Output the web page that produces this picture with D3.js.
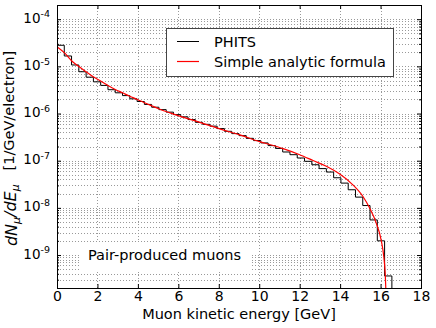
<!DOCTYPE html>
<html>
<head>
<meta charset="utf-8">
<script src="https://cdn.jsdelivr.net/npm/d3@7"></script>
<style>
  html, body { margin: 0; padding: 0; background: #fff; }
  svg { display: block; font-family: "DejaVu Sans", sans-serif; }
</style>
</head>
<body>
<svg id="chart"></svg>
<script>
// PHITS histogram: 0.36 GeV bins starting at 0
const BIN_WIDTH = 0.36;
const phitsValues = [
  2.8e-5, 1.66e-5, 1.07e-5, 7.7e-6, 5.9e-6, 4.7e-6, 3.95e-6, 3.2e-6, 2.75e-6, 2.4e-6,
  2.05e-6, 1.8e-6, 1.56e-6, 1.36e-6, 1.21e-6, 1.07e-6, 9.5e-7, 8.5e-7, 7.45e-7, 6.5e-7,
  5.9e-7, 5.4e-7, 4.8e-7, 4.2e-7, 3.75e-7, 3.4e-7, 2.98e-7, 2.67e-7, 2.38e-7, 2.09e-7,
  1.82e-7, 1.53e-7, 1.34e-7, 1.14e-7, 9.7e-8, 8.2e-8, 6.8e-8, 5.75e-8, 4.35e-8, 3.35e-8,
  2.42e-8, 1.69e-8, 1.12e-8, 5.55e-9, 2.0e-9, 3.6e-10
];

// analytic formula curve
const formulaE = [
  0, 0.36, 0.73, 1.09, 1.43, 1.79, 2.16, 2.52, 2.88, 3.24, 3.6, 3.97, 4.33, 4.68, 5.06,
  6.07, 7.06, 8.05, 9.04, 10.02, 10.52, 11.18, 12.0, 12.66, 13.32, 13.98, 14.63, 15.13,
  15.46, 15.79, 16.03, 16.16, 16.23, 16.27
];
const formulaValues = [
  2.62e-5, 1.95e-5, 1.3e-5, 9.9e-6, 7.7e-6, 6.0e-6, 4.9e-6, 3.94e-6, 3.24e-6, 2.75e-6,
  2.33e-6, 1.99e-6, 1.69e-6, 1.46e-6, 1.25e-6, 8.8e-7, 6.5e-7, 4.72e-7, 3.52e-7, 2.54e-7,
  2.2e-7, 1.8e-7, 1.34e-7, 1.01e-7, 7.6e-8, 5.2e-8, 3.08e-8, 1.74e-8, 9.9e-9, 4.7e-9,
  2.08e-9, 9.2e-10, 4.1e-10, 1.5e-10
];

const xTicks = [0, 2, 4, 6, 8, 10, 12, 14, 16, 18];
const yExponents = [-9, -8, -7, -6, -5, -4];
const legendLabels = ["PHITS", "Simple analytic formula"];

const width = 436, height = 328;
const margin = { top: 5, right: 15, bottom: 40, left: 57 };
const plotRight = width - margin.right;
const plotBottom = height - margin.bottom;

const svg = d3.select("#chart")
  .attr("width", width)
  .attr("height", height)
  .attr("viewBox", [0, 0, width, height]);

const x = d3.scaleLinear().domain([0, 18]).range([margin.left, plotRight]);
const y = d3.scaleLog().domain([2e-10, 2e-4]).range([plotBottom, margin.top]);

// minor log positions
const minorY = [];
for (let e = -10; e <= -4; e++) {
  for (let k = 2; k <= 9; k++) {
    const v = k * Math.pow(10, e);
    if (v > y.domain()[0] && v < y.domain()[1]) minorY.push(v);
  }
}
const majorY = yExponents.map(e => Math.pow(10, e));

svg.append("defs").append("clipPath").attr("id", "clip")
  .append("rect")
  .attr("x", margin.left).attr("y", margin.top)
  .attr("width", plotRight - margin.left).attr("height", plotBottom - margin.top);

// grid
const grid = svg.append("g")
  .attr("stroke", "#999")
  .attr("stroke-width", 1)
  .attr("stroke-dasharray", "1,2");

grid.selectAll("line.ym")
  .data(minorY.concat(majorY))
  .join("line")
  .attr("x1", margin.left).attr("x2", plotRight)
  .attr("y1", d => Math.round(y(d)) + 0.5).attr("y2", d => Math.round(y(d)) + 0.5);

grid.selectAll("line.xm")
  .data(xTicks.slice(1, -1))
  .join("line")
  .attr("y1", margin.top).attr("y2", plotBottom)
  .attr("x1", d => Math.round(x(d)) + 0.5).attr("x2", d => Math.round(x(d)) + 0.5);

// white box behind annotation
svg.append("rect")
  .attr("x", 81).attr("y", 242).attr("width", 169).attr("height", 30)
  .attr("fill", "#fff");

// histogram
const edges = d3.range(phitsValues.length + 1).map(i => i * BIN_WIDTH);
const steps = [[edges[0], y.domain()[0] / 10]];
phitsValues.forEach((v, i) => {
  steps.push([edges[i], v]);
  steps.push([edges[i + 1], v]);
});
steps.push([edges[edges.length - 1], y.domain()[0] / 10]);

const line = d3.line()
  .x(d => x(d[0]))
  .y(d => y(d[1]));

const plot = svg.append("g").attr("clip-path", "url(#clip)");

plot.append("path")
  .datum(steps)
  .attr("fill", "none")
  .attr("stroke", "#000")
  .attr("stroke-width", 1)
  .attr("d", line);

plot.append("path")
  .datum(formulaE.map((e, i) => [e, formulaValues[i]]))
  .attr("fill", "none")
  .attr("stroke", "#ff0000")
  .attr("stroke-width", 1.2)
  .attr("d", line.curve(d3.curveMonotoneX));

// axes (ticks inward on all four sides)
svg.append("g")
  .attr("transform", `translate(0,${plotBottom})`)
  .call(d3.axisBottom(x).tickValues(xTicks).tickSize(-4).tickPadding(3).tickFormat(d3.format("d")))
  .call(g => g.select(".domain").remove())
  .call(g => g.selectAll("text").attr("font-size", 14).attr("fill", "#000")
    .attr("font-family", "DejaVu Sans"));

svg.append("g")
  .attr("transform", `translate(0,${margin.top})`)
  .call(d3.axisTop(x).tickValues(xTicks).tickSize(-4).tickFormat(""))
  .call(g => g.select(".domain").remove());

const yLeft = svg.append("g")
  .attr("transform", `translate(${margin.left},0)`)
  .call(d3.axisLeft(y).tickValues(majorY).tickSize(-4).tickPadding(7).tickFormat(""))
  .call(g => g.select(".domain").remove());

yLeft.selectAll(".tick text")
  .attr("font-family", "DejaVu Sans")
  .attr("fill", "#000")
  .attr("dy", "0.3em")
  .each(function (d) {
    const t = d3.select(this);
    t.append("tspan").attr("font-size", 13.5).text("10");
    t.append("tspan").attr("font-size", 9.5).attr("dy", "-0.55em").text(Math.round(Math.log10(d)));
  });

svg.append("g")
  .attr("transform", `translate(${margin.left},0)`)
  .call(d3.axisLeft(y).tickValues(minorY).tickSize(-2).tickFormat(""))
  .call(g => g.select(".domain").remove());

svg.append("g")
  .attr("transform", `translate(${plotRight},0)`)
  .call(d3.axisRight(y).tickValues(majorY).tickSize(-4).tickFormat(""))
  .call(g => g.select(".domain").remove());

svg.append("g")
  .attr("transform", `translate(${plotRight},0)`)
  .call(d3.axisRight(y).tickValues(minorY).tickSize(-2).tickFormat(""))
  .call(g => g.select(".domain").remove());

// frame
svg.append("rect")
  .attr("x", margin.left + 0.5).attr("y", margin.top + 0.5)
  .attr("width", plotRight - margin.left).attr("height", plotBottom - margin.top)
  .attr("fill", "none").attr("stroke", "#000").attr("stroke-width", 1);

// axis labels
svg.append("text")
  .attr("x", (margin.left + plotRight) / 2)
  .attr("y", 319)
  .attr("text-anchor", "middle")
  .attr("font-size", 14.5)
  .text("Muon kinetic energy [GeV]");

const ylab = svg.append("text")
  .attr("transform", `translate(17,${(margin.top + plotBottom) / 2 + 2}) rotate(-90)`)
  .attr("text-anchor", "middle")
  .attr("font-size", 14.5);
ylab.append("tspan").attr("font-style", "italic").attr("font-size", 16).text("dN");
ylab.append("tspan").attr("font-style", "italic").attr("font-size", 11).attr("dy", "0.3em").text("μ");
ylab.append("tspan").attr("dy", "-0.3em").attr("font-style", "italic").attr("font-size", 16).text("/dE");
ylab.append("tspan").attr("font-style", "italic").attr("font-size", 11).attr("dy", "0.3em").text("μ");
ylab.append("tspan").attr("dy", "-0.3em").text("\u00a0\u00a0\u00a0[1/GeV/electron]");

// annotation
svg.append("text")
  .attr("x", 88).attr("y", 260)
  .attr("font-size", 14.5)
  .text("Pair-produced muons");

// legend
const legend = svg.append("g");
legend.append("rect")
  .attr("x", 166.5).attr("y", 28.5).attr("width", 227).attr("height", 48)
  .attr("fill", "#fff").attr("stroke", "#444").attr("stroke-width", 1);

const legendColors = ["#000", "#ff0000"];
const item = legend.selectAll("g.item")
  .data(legendLabels)
  .join("g")
  .attr("transform", (d, i) => `translate(0,${41.5 + i * 20})`);
item.append("line")
  .attr("x1", 177).attr("x2", 199)
  .attr("stroke", (d, i) => legendColors[i])
  .attr("stroke-width", (d, i) => i ? 1.2 : 1);
item.append("text")
  .attr("x", 214).attr("y", 5)
  .attr("font-size", 14.5)
  .text(d => d);
</script>
</body>
</html>
